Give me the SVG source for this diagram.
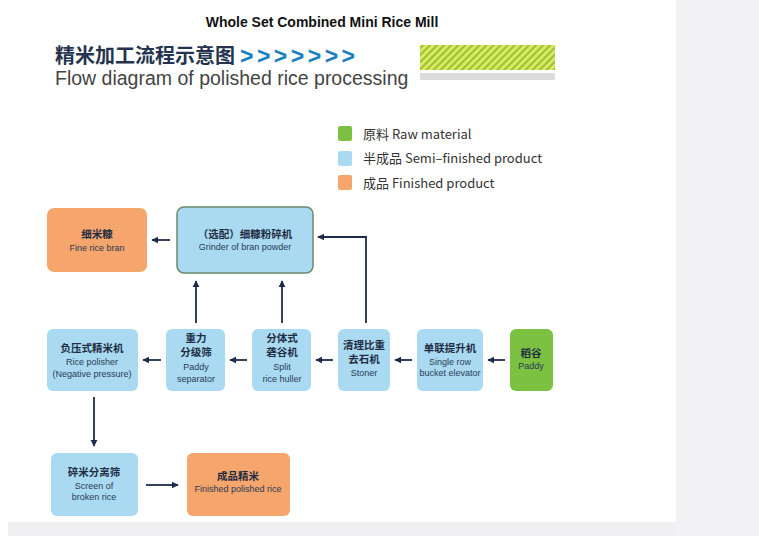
<svg xmlns="http://www.w3.org/2000/svg" width="759" height="536" viewBox="0 0 759 536">
<style>
.cn{font-family:"Noto Sans CJK SC","Liberation Sans",sans-serif;font-weight:bold;fill:#1f2d44;font-size:10.5px;text-anchor:middle}
.en{font-family:"Liberation Sans",sans-serif;fill:#2a3a55;font-size:9px;text-anchor:middle}
.blue{fill:#a9daf1}
.org{fill:#f6a56c}
.grn{fill:#7cc142}
.lg{font-family:"Noto Sans CJK SC","Liberation Sans",sans-serif;font-size:13px;fill:#333}
.c{stroke:#1d2b4a;stroke-width:1.8;fill:none;marker-end:url(#a)}
</style>
<defs>
<marker id="a" viewBox="0 0 10 10" refX="9" refY="5" markerWidth="4" markerHeight="4" orient="auto"><path d="M0,0L10,5L0,10z" fill="#1d2b4a"/></marker>
<pattern id="h" width="5" height="5" patternUnits="userSpaceOnUse" patternTransform="rotate(45)"><rect width="5" height="5" fill="#d7e86a"/><rect width="2" height="5" fill="#9dc328"/></pattern>
</defs>
<rect width="759" height="536" fill="#fff"/>
<rect x="676" y="0" width="83" height="536" fill="#f2f2f4"/>
<rect x="8" y="522" width="668" height="14" fill="#f0f0f2"/>
<text x="322" y="27" font-family="Liberation Sans,sans-serif" font-weight="bold" font-size="14" text-anchor="middle" fill="#111">Whole Set Combined Mini Rice Mill</text>
<text x="55" y="63" font-family="Noto Sans CJK SC,sans-serif" font-weight="bold" font-size="20" fill="#24344f">精米加工流程示意图</text>
<text x="240" y="64" font-family="Liberation Sans,sans-serif" font-weight="bold" font-size="23" fill="#1b80c2" letter-spacing="3.5">&gt;&gt;&gt;&gt;&gt;&gt;&gt;</text>
<text x="55" y="85" font-family="Liberation Sans,sans-serif" font-size="19.5" fill="#444">Flow diagram of polished rice processing</text>
<rect x="420" y="45" width="135" height="25" fill="url(#h)"/>
<rect x="420" y="73" width="135" height="7" fill="#dcdcdc"/>
<g id="legend">
<rect x="338" y="126" width="14" height="15" rx="2" class="grn"/>
<rect x="338" y="151" width="14" height="15" rx="2" class="blue"/>
<rect x="338" y="175" width="14" height="15" rx="2" class="org"/>
<text x="363" y="139" class="lg">原料 Raw material</text>
<text x="363" y="163" class="lg">半成品 Semi–finished product</text>
<text x="363" y="188" class="lg">成品 Finished product</text>
</g>
<g id="bran"><rect x="47" y="208" width="100" height="64" rx="7" class="org"/><text x="97" y="238" class="cn">细米糠</text><text x="97" y="251" class="en">Fine rice bran</text></g>
<g id="grinder"><rect x="177" y="207" width="136" height="66" rx="7" class="blue" stroke="#6b8a6a" stroke-width="1.5"/><text x="245" y="238" class="cn">（选配）细糠粉碎机</text><text x="245" y="250" class="en">Grinder of bran powder</text></g>
<g id="polisher"><rect x="47" y="329" width="91" height="62" rx="6" class="blue"/><text x="92" y="352" class="cn">负压式精米机</text><text x="92" y="365" class="en">Rice polisher</text><text x="92" y="377" class="en">(Negative pressure)</text></g>
<g id="separator"><rect x="166" y="329" width="59" height="62" rx="6" class="blue"/><text x="196" y="342" class="cn">重力</text><text x="196" y="356" class="cn">分级筛</text><text x="196" y="370" class="en">Paddy</text><text x="196" y="382" class="en">separator</text></g>
<g id="huller"><rect x="252" y="329" width="59" height="62" rx="6" class="blue"/><text x="282" y="342" class="cn">分体式</text><text x="282" y="356" class="cn">砻谷机</text><text x="282" y="370" class="en">Split</text><text x="282" y="382" class="en">rice huller</text></g>
<g id="stoner"><rect x="338" y="329" width="52" height="62" rx="6" class="blue"/><text x="364" y="349" class="cn" font-size="10">清理比重</text><text x="364" y="363" class="cn">去石机</text><text x="364" y="376" class="en">Stoner</text></g>
<g id="elevator"><rect x="417" y="329" width="66" height="62" rx="6" class="blue"/><text x="450" y="352" class="cn">单联提升机</text><text x="450" y="365" class="en">Single row</text><text x="450" y="376" class="en">bucket elevator</text></g>
<g id="paddy"><rect x="510" y="329" width="43" height="62" rx="6" class="grn"/><text x="531" y="357" class="cn">稻谷</text><text x="531" y="369" class="en" fill="#eaf5d8">Paddy</text></g>
<g id="screen"><rect x="51" y="453" width="87" height="63" rx="6" class="blue"/><text x="94" y="476" class="cn">碎米分离筛</text><text x="94" y="489" class="en">Screen of</text><text x="94" y="500" class="en">broken rice</text></g>
<g id="finished"><rect x="187" y="453" width="103" height="63" rx="6" class="org"/><text x="238" y="480" class="cn">成品精米</text><text x="238" y="492" class="en">Finished polished rice</text></g>
<g id="connectors">
<path class="c" d="M170,240H152"/>
<path class="c" d="M196,323V281"/>
<path class="c" d="M282,323V281"/>
<path class="c" d="M366,323V237H318"/>
<path class="c" d="M161,360H143"/>
<path class="c" d="M247,360H230"/>
<path class="c" d="M333,360H316"/>
<path class="c" d="M412,360H395"/>
<path class="c" d="M505,360H488"/>
<path class="c" d="M94,397V446"/>
<path class="c" d="M146,485H178"/>
</g>
</svg>
